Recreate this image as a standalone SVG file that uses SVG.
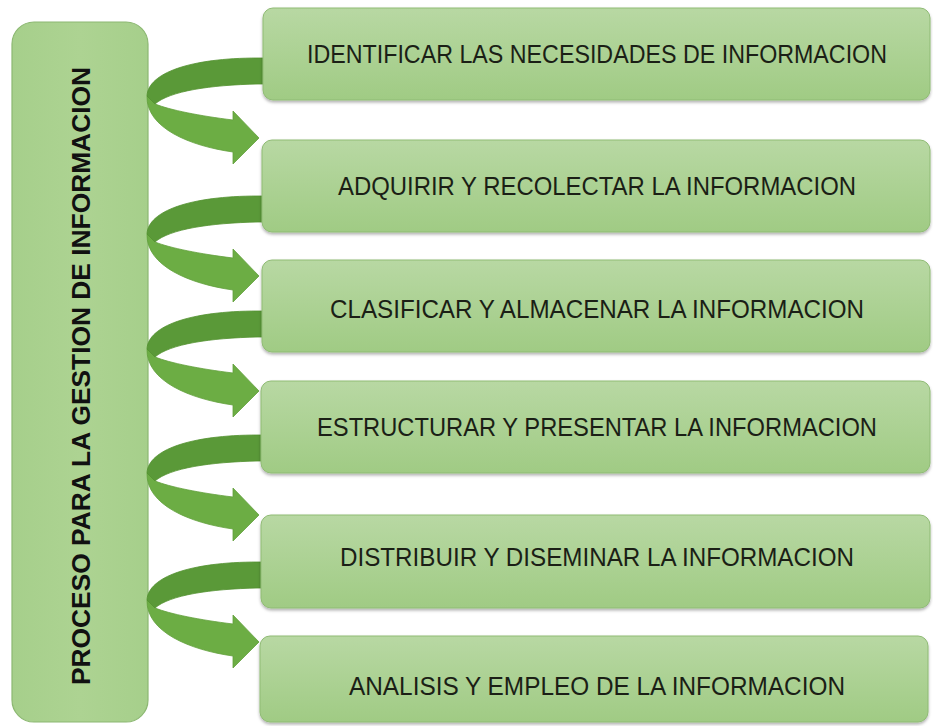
<svg xmlns="http://www.w3.org/2000/svg" xmlns:xlink="http://www.w3.org/1999/xlink" width="933" height="726" viewBox="0 0 933 726">
  <defs>
    <linearGradient id="boxGrad" x1="0" y1="0" x2="0" y2="1">
      <stop offset="0" stop-color="#b8d8a3"/>
      <stop offset="1" stop-color="#a0cb84"/>
    </linearGradient>
    <linearGradient id="mainGrad" x1="0" y1="0" x2="1" y2="0">
      <stop offset="0" stop-color="#a6cf8b"/>
      <stop offset="0.5" stop-color="#add392"/>
      <stop offset="1" stop-color="#a6cf8b"/>
    </linearGradient>
    <filter id="shadow" x="-5%" y="-10%" width="110%" height="130%">
      <feDropShadow dx="0" dy="2" stdDeviation="1.5" flood-color="#000" flood-opacity="0.3"/>
    </filter>
    <g id="curvedArrow">
      <path class="light" d="M147,38 C146,70 190,88 233,94 L233,106 L259,80 L233,53 L233,62 C200,58 170,52 155,46 Z"/>
      <path class="dark" d="M272,0 L258,0 C190,0 148,15 147,38 L155,46 C170,33 210,27 258,26 L272,26 Z"/>
    </g>
  </defs>
  <style>
    .box { fill: url(#boxGrad); stroke: #8fbb74; stroke-width: 1; filter: url(#shadow); }
    .main { fill: url(#mainGrad); stroke: #8cb872; stroke-width: 1.2; }
    .label { font-family: "Liberation Sans", Arial, sans-serif; font-size: 25px; fill: #1b1f16; text-anchor: middle; }
    .title { font-family: "Liberation Sans", Arial, sans-serif; font-size: 25px; font-weight: bold; fill: #111; text-anchor: middle; }
    .light { fill: #6cad44; stroke: #62a03c; stroke-width: 0.8; }
    .dark { fill: #5a9938; stroke: #52902f; stroke-width: 0.8; }
  </style>
  <rect width="933" height="726" fill="#ffffff"/>

  <g id="proceso">
    <rect class="main" x="12" y="22" width="136" height="700" rx="22" ry="22"/>
    <text class="title" transform="translate(90,376) rotate(-90)" textLength="618" lengthAdjust="spacingAndGlyphs">PROCESO PARA LA GESTION DE INFORMACION</text>
  </g>

  <g id="connectors">
    <use xlink:href="#curvedArrow" href="#curvedArrow" transform="translate(0,58)"/>
    <use xlink:href="#curvedArrow" href="#curvedArrow" transform="translate(0,196)"/>
    <use xlink:href="#curvedArrow" href="#curvedArrow" transform="translate(0,311)"/>
    <use xlink:href="#curvedArrow" href="#curvedArrow" transform="translate(0,435)"/>
    <use xlink:href="#curvedArrow" href="#curvedArrow" transform="translate(0,562)"/>
  </g>

  <g id="step1">
    <rect class="box" x="263" y="8" width="667" height="92" rx="10" ry="10"/>
    <text class="label" x="597" y="63" textLength="580" lengthAdjust="spacingAndGlyphs">IDENTIFICAR LAS NECESIDADES DE INFORMACION</text>
  </g>
  <g id="step2">
    <rect class="box" x="262" y="140" width="668" height="92" rx="10" ry="10"/>
    <text class="label" x="597" y="195" textLength="518" lengthAdjust="spacingAndGlyphs">ADQUIRIR Y RECOLECTAR LA INFORMACION</text>
  </g>
  <g id="step3">
    <rect class="box" x="262" y="260" width="668" height="92" rx="10" ry="10"/>
    <text class="label" x="597" y="318" textLength="534" lengthAdjust="spacingAndGlyphs">CLASIFICAR Y ALMACENAR LA INFORMACION</text>
  </g>
  <g id="step4">
    <rect class="box" x="261" y="381" width="669" height="92" rx="10" ry="10"/>
    <text class="label" x="597" y="436" textLength="560" lengthAdjust="spacingAndGlyphs">ESTRUCTURAR Y PRESENTAR LA INFORMACION</text>
  </g>
  <g id="step5">
    <rect class="box" x="261" y="515" width="669" height="93" rx="10" ry="10"/>
    <text class="label" x="597" y="566" textLength="514" lengthAdjust="spacingAndGlyphs">DISTRIBUIR Y DISEMINAR LA INFORMACION</text>
  </g>
  <g id="step6">
    <rect class="box" x="260" y="636" width="668" height="86" rx="10" ry="10"/>
    <text class="label" x="597" y="695" textLength="496" lengthAdjust="spacingAndGlyphs">ANALISIS Y EMPLEO DE LA INFORMACION</text>
  </g>
</svg>
